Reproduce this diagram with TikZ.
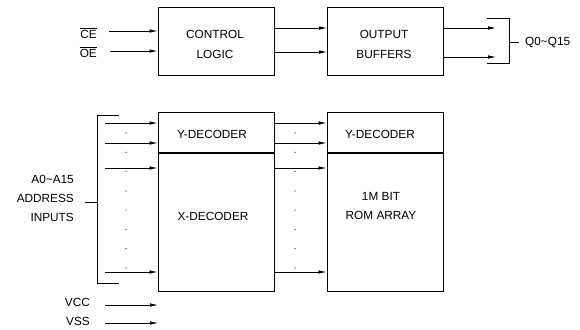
\documentclass[tikz,border=0pt]{standalone}
\usepackage{fontspec}
\setmainfont{Liberation Sans}
\usetikzlibrary{positioning}
\usetikzlibrary{calc}
\usetikzlibrary{arrows.meta}

\tikzset{
    blockbox/.style={draw, line width=0.8pt, minimum width=116pt, inner sep=0pt},
    sig/.style={line width=0.7pt, -{Latex[length=8pt,width=3.5pt]}},
    brack/.style={line width=0.8pt},
    lbl/.style={inner sep=0pt, align=center},
}

\begin{document}
\begin{tikzpicture}[x=1pt, y=-1pt, font=\fontsize{11.8}{20}\selectfont]
    \useasboundingbox (0,0) rectangle (580,329);

    % Top row
    \node[blockbox, minimum height=68pt] (ctrl) at (216,41) {};
    \node[blockbox, minimum height=68pt] (outbuf) at (385.5,41) {};
    \node[lbl] (ctrltxt) at (215,44) {CONTROL\\LOGIC};
    \node[lbl] (outtxt) at (384,44) {OUTPUT\\BUFFERS};

    \coordinate (ce) at (109,31);
    \coordinate (oe) at (110,51);
    \node[lbl, anchor=east] (celbl) at (97,33) {$\overline{\mbox{CE}}$};
    \node[lbl, anchor=east] (oelbl) at (97,52) {$\overline{\mbox{OE}}$};
    \draw[sig] (ce) -- (ctrl.west |- ce);
    \draw[sig] (oe) -- (ctrl.west |- oe);

    \coordinate (c1) at (274,28);
    \coordinate (c2) at (274,52);
    \draw[sig] (c1) -- (outbuf.west |- c1);
    \draw[sig] (c2) -- (outbuf.west |- c2);

    % Data outputs
    \coordinate (q1) at (496,28);
    \coordinate (q2) at (496,57);
    \draw[sig] (outbuf.east |- q1) -- (q1);
    \draw[sig] (outbuf.east |- q2) -- (q2);
    \draw[brack] (487,18) -- (509,18) -- (509,63) -- (487,63);
    \coordinate (qtick) at (509,42);
    \node[lbl, anchor=west] (qlbl) at (525,42) {Q0\textasciitilde Q15};
    \draw[brack] (qtick) -- ++(10,0);

    % Decoders and array
    \node[blockbox, minimum height=179pt] (dec) at (216,201.5) {};
    \node[blockbox, minimum height=179pt] (rom) at (385,201.5) {};
    \draw[line width=1.8pt] ($(dec.north west)+(0,41)$) -- ($(dec.north east)+(0,41)$);
    \draw[line width=1.8pt] ($(rom.north west)+(0,41)$) -- ($(rom.north east)+(0,41)$);
    \node[lbl] (ydec) at (212,134) {Y-DECODER};
    \node[lbl] (xdec) at (213,216) {X-DECODER};
    \node[lbl] (yrom) at (380,134) {Y-DECODER};
    \node[lbl, font=\fontsize{11.8}{19}\selectfont] (array) at (381,205.5) {1M BIT\\ROM ARRAY};

    % Address inputs
    \draw[brack] (119,115) -- (97,115) -- (97,283) -- (119,283);
    \coordinate (atick) at (97,202);
    \draw[brack] (atick) -- ++(-12,0);
    \node[lbl, anchor=east, align=right, font=\fontsize{11.8}{19}\selectfont] (addr) at (74,198) {A0\textasciitilde A15\\ADDRESS\\INPUTS};

    \foreach \y in {123,143,168,272} {
        \coordinate (a\y) at (105,\y);
        \draw[sig] (a\y) -- (dec.west |- a\y);
        \coordinate (b\y) at (274,\y);
        \draw[sig] (b\y) -- (rom.west |- b\y);
    }
    \foreach \y in {133,152.3,171.6,190.9,210.1,229.4,248.7,268} {
        \fill (126,\y) circle (0.6);
        \fill (295,\y) circle (0.6);
    }

    % Supply
    \node[lbl, anchor=east] (vcc) at (90,302) {VCC};
    \node[lbl, anchor=east] (vss) at (90,321) {VSS};
    \coordinate (vccin) at (105,305);
    \coordinate (vssin) at (105,323);
    \draw[sig] (vccin) -- ++(53,0);
    \draw[sig] (vssin) -- ++(53,0);
\end{tikzpicture}
\end{document}
